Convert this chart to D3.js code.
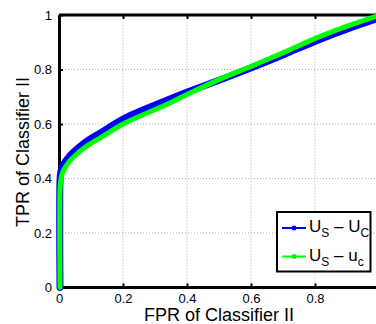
<!DOCTYPE html>
<html>
<head>
<meta charset="utf-8">
<script src="https://cdn.jsdelivr.net/npm/d3@7"></script>
<style>
  body { margin: 0; background: #fff; }
  text { font-family: "Liberation Sans", Arial, sans-serif; }
</style>
</head>
<body>
<div id="my_dataviz"></div>
<script>
// data
const fpr    = [0, 0, 0.002, 0.005, 0.01, 0.02, 0.03, 0.05, 0.07, 0.092, 0.13, 0.2, 0.33, 0.4, 0.514, 0.6, 0.7, 0.8, 0.9, 1.0];
const tprUC  = [0, 0.39, 0.42, 0.435, 0.45, 0.467, 0.482, 0.505, 0.525, 0.543, 0.57, 0.62, 0.685, 0.718, 0.768, 0.807, 0.855, 0.905, 0.95, 0.99];
const tprUc  = [0, 0.36, 0.39, 0.41, 0.427, 0.447, 0.464, 0.487, 0.507, 0.525, 0.552, 0.602, 0.67, 0.71, 0.772, 0.813, 0.863, 0.915, 0.96, 1.0];
const xTicks = [0, 0.2, 0.4, 0.6, 0.8];
const yTicks = [0, 0.2, 0.4, 0.6, 0.8, 1];

const W = 376, H = 324;
const margin = {top: 15, left: 59, bottom: 36};
const svg = d3.select("#my_dataviz")
    .append("svg")
    .attr("width", W)
    .attr("height", H);

const x = d3.scaleLinear().domain([0, 1]).range([margin.left, 379]);
const y = d3.scaleLinear().domain([0, 1]).range([H - margin.bottom - 0.5, margin.top]);
const fmt = d => (d === 0 || d === 1) ? String(d) : d.toFixed(1);

// grid
svg.append("g")
    .selectAll("line")
    .data(xTicks.slice(1))
    .join("line")
    .attr("x1", d => x(d)).attr("x2", d => x(d))
    .attr("y1", y(0)).attr("y2", y(1))
    .attr("stroke", "#b0b0b0").attr("stroke-width", 1)
    .attr("stroke-dasharray", "1,2");
svg.append("g")
    .selectAll("line")
    .data(yTicks.slice(1, -1))
    .join("line")
    .attr("x1", x(0)).attr("x2", W)
    .attr("y1", d => y(d)).attr("y2", d => y(d))
    .attr("stroke", "#b0b0b0").attr("stroke-width", 1)
    .attr("stroke-dasharray", "1,2");

// axes
const xAxis = svg.append("g")
    .attr("transform", `translate(0,${y(0)})`)
    .call(d3.axisBottom(x).tickValues(xTicks).tickFormat(fmt).tickSizeInner(-4).tickSizeOuter(0).tickPadding(6));
const xTop = svg.append("g")
    .attr("transform", `translate(0,${y(1)})`)
    .call(d3.axisTop(x).tickValues(xTicks).tickFormat("").tickSizeInner(-4).tickSizeOuter(0));
const yAxis = svg.append("g")
    .attr("transform", `translate(${x(0)},0)`)
    .call(d3.axisLeft(y).tickValues(yTicks).tickFormat(fmt).tickSizeInner(-4).tickSizeOuter(0).tickPadding(7));

[xAxis, xTop, yAxis].forEach(g => {
    g.select(".domain").attr("stroke", "#000").attr("stroke-width", 3);
    g.selectAll(".tick line").attr("stroke", "#000").attr("stroke-width", 2);
    g.selectAll(".tick text").attr("fill", "#000").style("font-size", "13px");
});
xAxis.select(".domain").attr("d", `M${x(0)},0H${W}`);
xTop.select(".domain").attr("d", `M${x(0)},0H${W}`);

// curves (drawn over the axes, as in the original)
const line = d3.line()
    .curve(d3.curveCatmullRom.alpha(0.5))
    .x(d => x(d[0]) + 1)
    .y(d => y(d[1]));
svg.append("path")
    .datum(fpr.map((f, i) => [f, tprUC[i]]))
    .attr("fill", "none")
    .attr("stroke", "#0000ff")
    .attr("stroke-width", 7)
    .attr("stroke-linejoin", "round")
    .attr("stroke-linecap", "round")
    .attr("d", line);
svg.append("path")
    .datum(fpr.map((f, i) => [f, tprUc[i]]))
    .attr("fill", "none")
    .attr("stroke", "#00ff00")
    .attr("stroke-width", 5)
    .attr("stroke-linejoin", "round")
    .attr("stroke-linecap", "round")
    .attr("d", line);

// axis labels
svg.append("text")
    .attr("x", 219).attr("y", 321)
    .attr("text-anchor", "middle")
    .style("font-size", "18px")
    .text("FPR of Classifier II");
svg.append("text")
    .attr("transform", "translate(29,152) rotate(-90)")
    .attr("text-anchor", "middle")
    .style("font-size", "18px")
    .text("TPR of Classifier II");

// legend
const leg = svg.append("g");
leg.append("rect")
    .attr("x", 277).attr("y", 212)
    .attr("width", 93.5).attr("height", 59.5)
    .attr("fill", "#fff").attr("stroke", "#000").attr("stroke-width", 2);
const entries = [
    {color: "#0000ff", a: "U", s1: "S", b: "U", s2: "C"},
    {color: "#00ff00", a: "U", s1: "S", b: "u", s2: "c"}
];
entries.forEach((e, i) => {
    const cy = 228 + i * 28.5;
    leg.append("line")
        .attr("x1", 282).attr("x2", 306).attr("y1", cy).attr("y2", cy)
        .attr("stroke", e.color).attr("stroke-width", 2);
    leg.append("circle")
        .attr("cx", 294).attr("cy", cy).attr("r", 2.5)
        .attr("fill", e.color);
    const t = leg.append("text")
        .attr("x", 309).attr("y", cy + 4)
        .style("font-size", "17px");
    t.append("tspan").text(e.a);
    t.append("tspan").attr("dy", 5).style("font-size", "12px").text(e.s1);
    t.append("tspan").attr("dy", -5).text(" \u2013 " + e.b);
    t.append("tspan").attr("dy", 5).style("font-size", "12px").text(e.s2);
});
</script>
</body>
</html>
